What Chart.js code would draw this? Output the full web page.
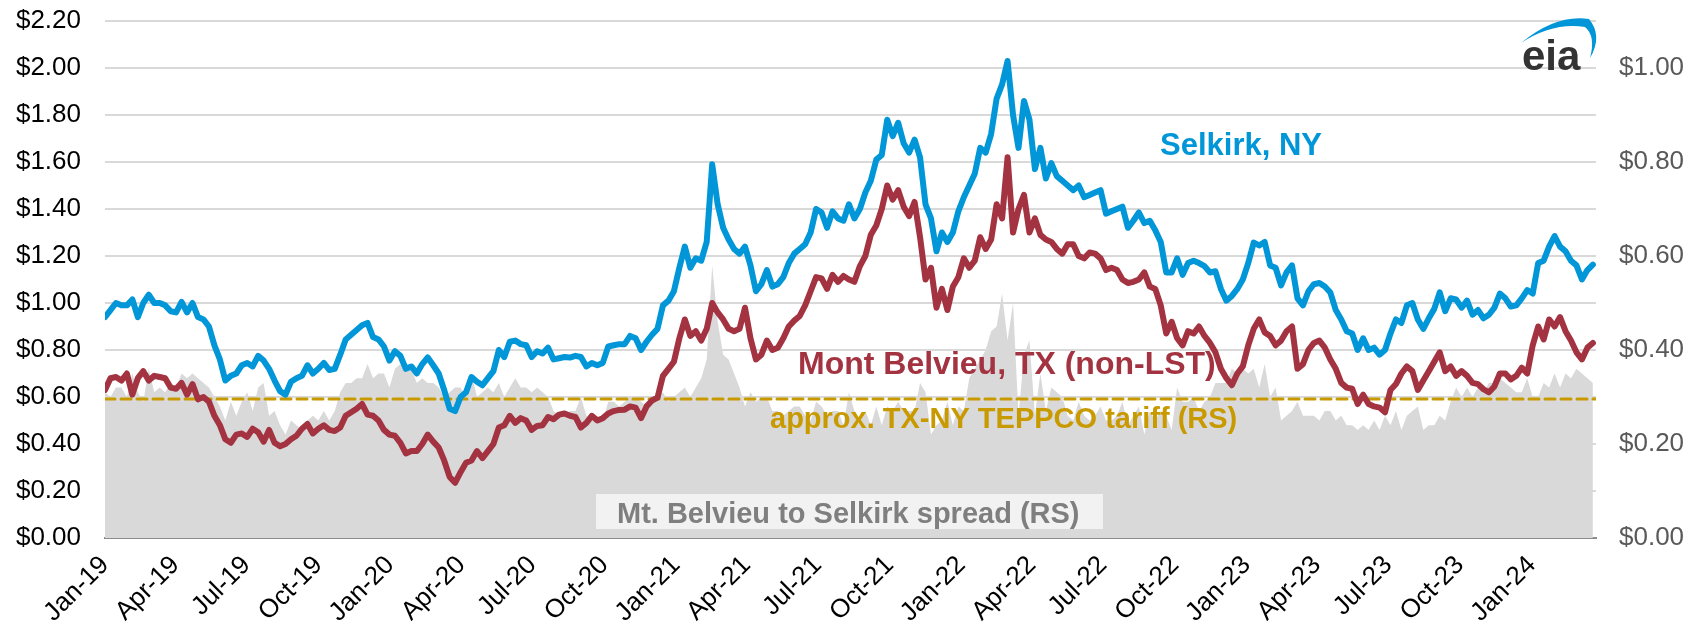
<!DOCTYPE html>
<html>
<head>
<meta charset="utf-8">
<script src="https://cdn.jsdelivr.net/npm/chart.js@4.4.1/dist/chart.umd.min.js"></script>
<style>
  html, body { margin: 0; padding: 0; background: #fff; }
</style>
</head>
<body>
<canvas id="spreadChart" width="1686" height="628"></canvas>
<script>
// weekly readings, first week of Jan 2019 to late Mar 2024 ($/gal)
const selkirk = [
    0.94, 0.97, 1.00, 0.99, 0.99, 1.015, 0.94, 1.00, 1.035, 1.00,
    1.00, 0.99, 0.965, 0.96, 1.005, 0.96, 1.00, 0.94, 0.93, 0.90,
    0.82, 0.76, 0.67, 0.69, 0.70, 0.735, 0.745, 0.73, 0.775, 0.755,
    0.72, 0.67, 0.625, 0.61, 0.665, 0.68, 0.69, 0.735, 0.70, 0.72,
    0.745, 0.715, 0.72, 0.78, 0.845, 0.865, 0.885, 0.905, 0.915, 0.855,
    0.845, 0.815, 0.755, 0.795, 0.775, 0.72, 0.73, 0.70, 0.74, 0.768,
    0.735, 0.70, 0.63, 0.55, 0.54, 0.60, 0.62, 0.685, 0.665, 0.65,
    0.68, 0.71, 0.80, 0.77, 0.835, 0.84, 0.825, 0.82, 0.77, 0.795,
    0.785, 0.81, 0.76, 0.765, 0.77, 0.768, 0.775, 0.77, 0.73, 0.745,
    0.735, 0.745, 0.815, 0.82, 0.825, 0.825, 0.86, 0.85, 0.80, 0.835,
    0.865, 0.89, 0.99, 1.01, 1.05, 1.15, 1.24, 1.15, 1.19, 1.18,
    1.26, 1.59, 1.42, 1.32, 1.27, 1.23, 1.21, 1.24, 1.16, 1.05,
    1.08, 1.14, 1.07, 1.08, 1.11, 1.17, 1.21, 1.23, 1.25, 1.30,
    1.40, 1.385, 1.32, 1.39, 1.36, 1.35, 1.42, 1.36, 1.40, 1.47,
    1.52, 1.61, 1.63, 1.78, 1.71, 1.767, 1.68, 1.64, 1.695, 1.62,
    1.42, 1.36, 1.22, 1.30, 1.26, 1.30, 1.39, 1.45, 1.50, 1.55,
    1.66, 1.64, 1.72, 1.87, 1.93, 2.03, 1.80, 1.66, 1.86, 1.78,
    1.57, 1.66, 1.53, 1.595, 1.54, 1.52, 1.50, 1.48, 1.50, 1.45,
    1.46, 1.47, 1.48, 1.38, 1.39, 1.40, 1.41, 1.32, 1.35, 1.385,
    1.34, 1.35, 1.31, 1.26, 1.13, 1.13, 1.19, 1.12, 1.17, 1.18,
    1.17, 1.157, 1.13, 1.135, 1.06, 1.01, 1.03, 1.06, 1.10, 1.17,
    1.257, 1.245, 1.26, 1.16, 1.15, 1.075, 1.13, 1.16, 1.02, 0.99,
    1.05, 1.08, 1.085, 1.07, 1.045, 0.97, 0.93, 0.88, 0.87, 0.80,
    0.85, 0.80, 0.81, 0.78, 0.80, 0.87, 0.93, 0.915, 0.99, 1.00,
    0.93, 0.89, 0.935, 0.975, 1.045, 0.965, 1.02, 1.015, 0.98, 1.01,
    0.95, 0.97, 0.935, 0.95, 0.98, 1.04, 1.02, 0.985, 0.99, 1.02,
    1.055, 1.04, 1.17, 1.18, 1.24, 1.285, 1.24, 1.22, 1.18, 1.16,
    1.10, 1.14, 1.163
];

const montBelvieu = [
    0.63, 0.68, 0.685, 0.67, 0.70, 0.61, 0.68, 0.71, 0.67, 0.69,
    0.685, 0.68, 0.64, 0.635, 0.66, 0.61, 0.655, 0.59, 0.60, 0.58,
    0.52, 0.48, 0.42, 0.405, 0.44, 0.445, 0.43, 0.465, 0.45, 0.41,
    0.46, 0.405, 0.39, 0.40, 0.42, 0.435, 0.465, 0.485, 0.445, 0.465,
    0.48, 0.46, 0.455, 0.47, 0.52, 0.535, 0.55, 0.57, 0.525, 0.52,
    0.50, 0.46, 0.44, 0.435, 0.405, 0.36, 0.37, 0.37, 0.40, 0.44,
    0.41, 0.385, 0.33, 0.26, 0.235, 0.28, 0.32, 0.33, 0.37, 0.34,
    0.37, 0.40, 0.47, 0.48, 0.52, 0.49, 0.51, 0.50, 0.46, 0.477,
    0.48, 0.515, 0.505, 0.525, 0.53, 0.52, 0.515, 0.47, 0.49, 0.52,
    0.50, 0.51, 0.53, 0.54, 0.545, 0.546, 0.56, 0.555, 0.51, 0.56,
    0.585, 0.597, 0.69, 0.72, 0.75, 0.85, 0.93, 0.86, 0.88, 0.84,
    0.89, 1.00, 0.96, 0.93, 0.89, 0.88, 0.89, 0.98, 0.85, 0.76,
    0.78, 0.84, 0.80, 0.81, 0.85, 0.90, 0.925, 0.945, 0.99, 1.05,
    1.11, 1.105, 1.06, 1.12, 1.09, 1.115, 1.10, 1.09, 1.157, 1.20,
    1.29, 1.33, 1.40, 1.50, 1.44, 1.48, 1.41, 1.37, 1.43, 1.28,
    1.10, 1.15, 0.98, 1.06, 0.97, 1.07, 1.11, 1.19, 1.15, 1.18,
    1.28, 1.23, 1.27, 1.42, 1.36, 1.62, 1.30, 1.40, 1.46, 1.30,
    1.36, 1.29, 1.27, 1.26, 1.23, 1.21, 1.25, 1.25, 1.20, 1.19,
    1.215, 1.21, 1.19, 1.14, 1.15, 1.14, 1.10, 1.085, 1.09, 1.10,
    1.13, 1.07, 1.06, 0.99, 0.87, 0.92, 0.85, 0.82, 0.88, 0.87,
    0.90, 0.86, 0.83, 0.79, 0.72, 0.68, 0.65, 0.70, 0.73, 0.82,
    0.89, 0.93, 0.875, 0.86, 0.82, 0.84, 0.88, 0.90, 0.72, 0.74,
    0.80, 0.83, 0.84, 0.81, 0.76, 0.72, 0.66, 0.64, 0.635, 0.57,
    0.61, 0.57, 0.56, 0.555, 0.535, 0.63, 0.655, 0.70, 0.73, 0.71,
    0.63, 0.67, 0.71, 0.75, 0.79, 0.71, 0.73, 0.69, 0.71, 0.69,
    0.66, 0.655, 0.633, 0.62, 0.645, 0.70, 0.70, 0.675, 0.69, 0.725,
    0.70, 0.82, 0.90, 0.845, 0.93, 0.90, 0.94, 0.88, 0.84, 0.79,
    0.76, 0.81, 0.83
];

// right scale
const spread = [
    0.31, 0.30, 0.32, 0.32, 0.30, 0.35, 0.31, 0.29, 0.36, 0.31,
    0.32, 0.31, 0.33, 0.32, 0.35, 0.34, 0.35, 0.34, 0.33, 0.32,
    0.30, 0.28, 0.25, 0.29, 0.26, 0.29, 0.31, 0.27, 0.32, 0.33,
    0.26, 0.27, 0.24, 0.22, 0.25, 0.24, 0.23, 0.25, 0.26, 0.25,
    0.27, 0.25, 0.27, 0.31, 0.33, 0.33, 0.34, 0.34, 0.37, 0.34,
    0.35, 0.35, 0.32, 0.36, 0.37, 0.36, 0.36, 0.33, 0.34, 0.33,
    0.33, 0.32, 0.30, 0.31, 0.32, 0.32, 0.30, 0.35, 0.30, 0.31,
    0.32, 0.31, 0.33, 0.30, 0.32, 0.34, 0.32, 0.32, 0.31, 0.32,
    0.31, 0.30, 0.27, 0.26, 0.26, 0.27, 0.27, 0.30, 0.26, 0.25,
    0.26, 0.25, 0.29, 0.29, 0.28, 0.29, 0.30, 0.30, 0.29, 0.28,
    0.29, 0.30, 0.31, 0.29, 0.30, 0.31, 0.32, 0.30, 0.32, 0.34,
    0.38, 0.58, 0.46, 0.39, 0.38, 0.35, 0.32, 0.28, 0.31, 0.29,
    0.30, 0.30, 0.27, 0.27, 0.26, 0.27, 0.28, 0.28, 0.26, 0.25,
    0.29, 0.28, 0.26, 0.27, 0.27, 0.24, 0.31, 0.27, 0.25, 0.27,
    0.24, 0.28, 0.24, 0.28, 0.27, 0.29, 0.27, 0.27, 0.27, 0.33,
    0.31, 0.22, 0.24, 0.25, 0.29, 0.24, 0.28, 0.27, 0.34, 0.36,
    0.38, 0.40, 0.44, 0.45, 0.52, 0.42, 0.50, 0.26, 0.39, 0.42,
    0.26, 0.35, 0.27, 0.32, 0.31, 0.30, 0.26, 0.25, 0.29, 0.26,
    0.25, 0.26, 0.28, 0.25, 0.25, 0.26, 0.29, 0.24, 0.26, 0.28,
    0.22, 0.27, 0.25, 0.27, 0.26, 0.23, 0.32, 0.29, 0.29, 0.30,
    0.27, 0.29, 0.30, 0.33, 0.33, 0.33, 0.36, 0.35, 0.36, 0.35,
    0.36, 0.32, 0.37, 0.30, 0.32, 0.25, 0.26, 0.27, 0.29, 0.26,
    0.26, 0.26, 0.25, 0.27, 0.27, 0.25, 0.26, 0.24, 0.24, 0.23,
    0.24, 0.23, 0.25, 0.23, 0.26, 0.24, 0.27, 0.23, 0.26, 0.27,
    0.28, 0.23, 0.24, 0.24, 0.26, 0.25, 0.29, 0.32, 0.30, 0.32,
    0.30, 0.32, 0.31, 0.33, 0.33, 0.34, 0.33, 0.32, 0.31, 0.31,
    0.34, 0.30, 0.30, 0.33, 0.32, 0.35, 0.32, 0.35, 0.34, 0.36,
    0.35, 0.34, 0.33
];

const tariffLevel = 0.296;

const tickLabels = ['Jan-19', 'Apr-19', 'Jul-19', 'Oct-19', 'Jan-20', 'Apr-20', 'Jul-20', 'Oct-20',
    'Jan-21', 'Apr-21', 'Jul-21', 'Oct-21', 'Jan-22', 'Apr-22', 'Jul-22', 'Oct-22',
    'Jan-23', 'Apr-23', 'Jul-23', 'Oct-23', 'Jan-24'];
// days since 1 Jan 2019
const tickDays = [0, 90, 181, 273, 365, 456, 547, 639, 731, 821, 912, 1004,
    1096, 1186, 1277, 1369, 1461, 1551, 1642, 1734, 1826];
const axisEndDay = 1908;

const FONT = 'Arial, "Liberation Sans", sans-serif';
const BLUE = '#0096D7';
const RED = '#A33340';
const GOLD = '#C99A00';

const weekDays = selkirk.map((_, i) => i * 7);
const toPoints = values => values.map((v, i) => ({ x: weekDays[i], y: v }));

function money(v) {
    return '$' + v.toFixed(2);
}

// fixed axis box, no extra padding from the tick labels
function fixWidth(w) {
    return scale => {
        scale.width = w;
        scale.paddingTop = 0;
        scale.paddingBottom = 0;
    };
}

// text labels and logo drawn over the plot
const labelsPlugin = {
    id: 'chartLabels',
    afterDatasetsDraw(chart) {
        const ctx = chart.ctx;
        ctx.save();
        ctx.textBaseline = 'alphabetic';
        ctx.textAlign = 'left';

        ctx.fillStyle = '#F2F2F2';
        ctx.fillRect(596, 494, 507, 35);
        ctx.font = 'bold 29px ' + FONT;
        ctx.fillStyle = '#7F7F7F';
        ctx.fillText('Mt. Belvieu to Selkirk spread (RS)', 617, 523);

        ctx.fillStyle = GOLD;
        ctx.fillText('approx. TX-NY TEPPCO tariff (RS)', 770, 428);

        ctx.font = 'bold 32px ' + FONT;
        ctx.fillStyle = RED;
        ctx.fillText('Mont Belvieu, TX (non-LST)', 798, 374);

        ctx.font = 'bold 31px ' + FONT;
        ctx.fillStyle = BLUE;
        ctx.fillText('Selkirk, NY', 1160, 155);

        // eia logo
        ctx.beginPath();
        ctx.moveTo(1521, 43);
        ctx.quadraticCurveTo(1556, 14, 1589, 19);
        ctx.quadraticCurveTo(1603, 36, 1590, 58);
        ctx.quadraticCurveTo(1596, 36, 1585, 27);
        ctx.quadraticCurveTo(1553, 22, 1521, 43);
        ctx.closePath();
        ctx.fillStyle = BLUE;
        ctx.fill();
        ctx.font = 'bold 42px ' + FONT;
        ctx.fillStyle = '#333333';
        ctx.fillText('eia', 1522, 70);
        ctx.restore();
    }
};

Chart.defaults.font.family = FONT;

const ctx = document.getElementById('spreadChart').getContext('2d');
new Chart(ctx, {
    type: 'line',
    data: {
        datasets: [
            {
                label: 'Selkirk, NY',
                data: toPoints(selkirk),
                borderColor: BLUE,
                borderWidth: 6,
                pointRadius: 0,
                yAxisID: 'y',
                order: 0
            },
            {
                label: 'Mont Belvieu, TX (non-LST)',
                data: toPoints(montBelvieu),
                borderColor: RED,
                borderWidth: 6,
                pointRadius: 0,
                yAxisID: 'y',
                order: 1
            },
            {
                label: 'approx. TX-NY TEPPCO tariff (RS)',
                data: [{ x: 0, y: tariffLevel }, { x: axisEndDay, y: tariffLevel }],
                borderColor: GOLD,
                borderWidth: 3,
                borderDash: [10, 6],
                pointRadius: 0,
                yAxisID: 'y2',
                order: 2
            },
            {
                label: 'Mt. Belvieu to Selkirk spread (RS)',
                data: toPoints(spread),
                borderWidth: 0,
                borderColor: 'rgba(0,0,0,0)',
                backgroundColor: '#D9D9D9',
                fill: 'origin',
                pointRadius: 0,
                yAxisID: 'y2',
                order: 3
            }
        ]
    },
    options: {
        responsive: false,
        animation: false,
        elements: {
            line: { borderJoinStyle: 'round', borderCapStyle: 'round', tension: 0 }
        },
        layout: { padding: { top: 21, left: 0, right: 0, bottom: 0 } },
        plugins: {
            legend: { display: false },
            tooltip: { enabled: false }
        },
        scales: {
            x: {
                type: 'linear',
                min: 0,
                max: axisEndDay,
                afterBuildTicks: scale => {
                    scale.ticks = tickDays.map(d => ({ value: d }));
                },
                afterFit: scale => { scale.height = 90; },
                grid: { display: true, drawOnChartArea: false, drawTicks: false },
                border: { display: true, color: '#8C8C8C', width: 2 },
                ticks: {
                    autoSkip: false,
                    minRotation: 45,
                    maxRotation: 45,
                    padding: 12,
                    color: '#000000',
                    font: { size: 26 },
                    callback: value => tickLabels[tickDays.indexOf(value)]
                }
            },
            y: {
                position: 'left',
                min: 0,
                max: 2.2,
                afterFit: fixWidth(105),
                grid: { color: '#D9D9D9', lineWidth: 2, drawTicks: false },
                border: { display: false },
                ticks: {
                    stepSize: 0.2,
                    padding: 24,
                    color: '#000000',
                    font: { size: 26 },
                    callback: value => money(value)
                }
            },
            y2: {
                position: 'right',
                min: 0,
                max: 1.1,
                afterFit: fixWidth(90),
                grid: { display: false, drawTicks: false },
                border: { display: false },
                ticks: {
                    stepSize: 0.2,
                    includeBounds: false,
                    padding: 23,
                    color: '#595959',
                    font: { size: 26 },
                    callback: value => money(value)
                }
            }
        }
    },
    plugins: [labelsPlugin]
});
</script>
</body>
</html>
